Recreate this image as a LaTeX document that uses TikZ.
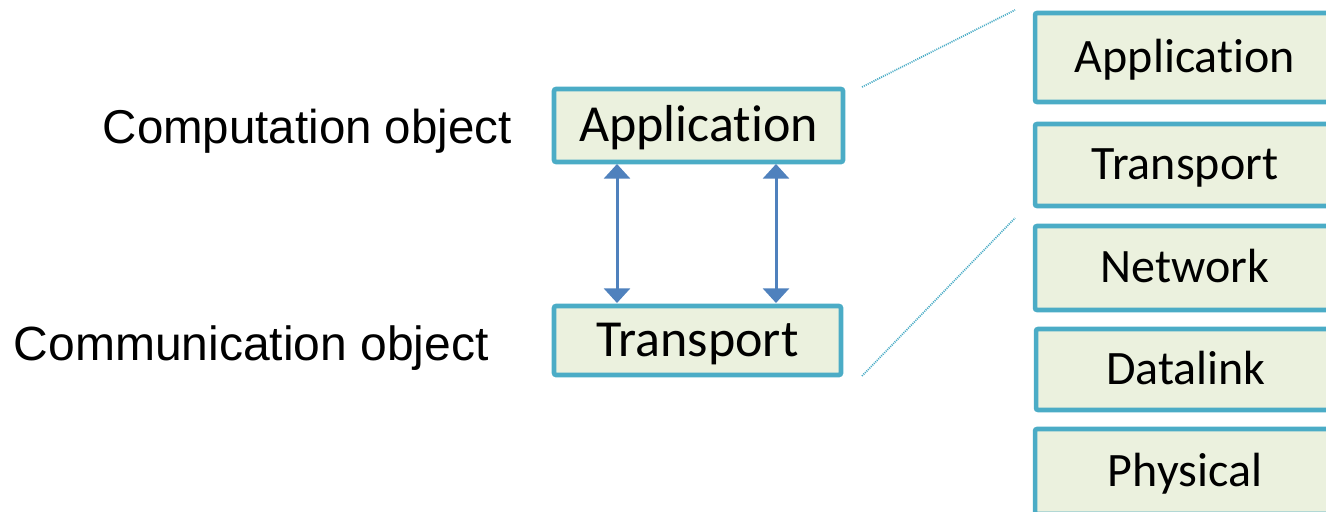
\documentclass[tikz,border=0pt]{standalone}
\usepackage{fontspec}
\setmainfont{Carlito}[Ligatures=NoCommon]
\newfontfamily\arialfont{Liberation Sans}
\usetikzlibrary{arrows.meta}
\definecolor{boxline}{HTML}{4BACC6}
\definecolor{boxfill}{HTML}{EBF1DE}
\definecolor{arrowblue}{HTML}{4F81BD}
\begin{document}
\begin{tikzpicture}[x=0.75pt,y=-0.75pt,
  layer/.style={draw=boxline, fill=boxfill, line width=3.4pt, rounded corners=1.5pt,
    inner sep=0pt, text depth=0pt, anchor=center},
  leftlayer/.style={layer, font=\fontsize{39}{44}\selectfont, text height=24.4pt},
  rightlayer/.style={layer, font=\fontsize{36}{40}\selectfont, text height=22.4pt, minimum width=300*0.75pt},
  label/.style={font=\arialfont\fontsize{35.6}{40}\selectfont, inner sep=0pt, anchor=base east},
  biarrow/.style={draw=arrowblue, line width=2.25pt, {Triangle[width=19.5pt,length=11pt]}-{Triangle[width=19.5pt,length=11pt]}},
  zoomline/.style={draw=boxline, line width=1.3pt, dash pattern=on 0.8pt off 0.8pt}]
\useasboundingbox (0,0) rectangle (1326,511);
% left stack
\node[leftlayer, minimum width=289*0.75pt, minimum height=73*0.75pt] (app) at (698.5,125.5) {Application};
\node[leftlayer, minimum width=287*0.75pt, minimum height=69*0.75pt] (trans) at (697.5,340.5) {Transport};
% labels
\node[label] (complabel) at (512,143) {Computation object};
\node[label, font=\arialfont\fontsize{36}{40}\selectfont] (commlabel) at (489,360) {Communication object};
% arrows
\coordinate (a1t) at (617,164);
\coordinate (a1b) at (617,303);
\coordinate (a2t) at (776,164);
\coordinate (a2b) at (776,303);
\draw[biarrow] (a1t) -- (a1b);
\draw[biarrow] (a2t) -- (a2b);
% right stack
\node[rightlayer, minimum height=89*0.75pt] (rapp) at (1185,57.5) {Application};
\node[rightlayer, minimum height=82*0.75pt] (rtrans) at (1185,165) {Transport};
\node[rightlayer, minimum height=84*0.75pt] (rnet) at (1185,268) {Network};
\node[rightlayer, minimum height=81*0.75pt] (rdl) at (1186,369.5) {Datalink};
\node[rightlayer, minimum height=85*0.75pt] (rphy) at (1185,471.5) {Physical};
% zoom lines
\coordinate (z1a) at (862,87);
\coordinate (z1b) at (1015,10);
\coordinate (z2a) at (862,376);
\coordinate (z2b) at (1015,218);
\draw[zoomline] (z1a) -- (z1b);
\draw[zoomline] (z2a) -- (z2b);
\end{tikzpicture}
\end{document}
